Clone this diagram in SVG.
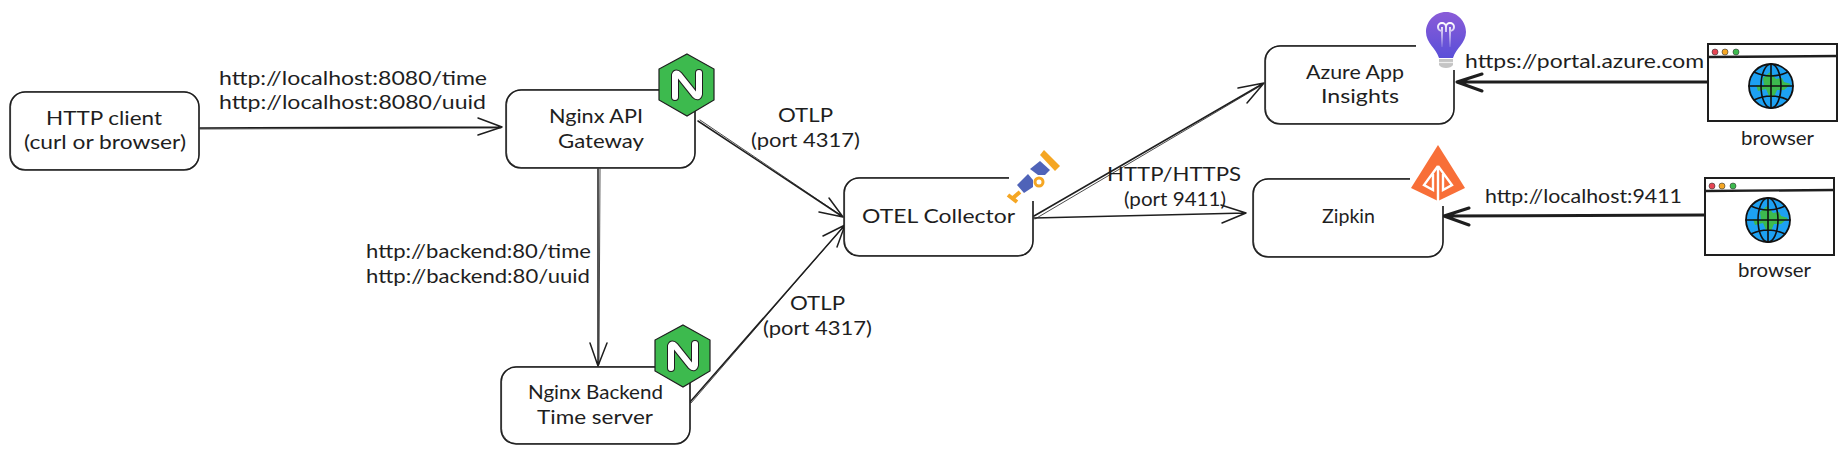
<svg xmlns="http://www.w3.org/2000/svg" width="1846" height="454" viewBox="0 0 1846 454">
<style>
.t{font-family:"Lato","Open Sans","DejaVu Sans",sans-serif;font-size:20px;font-weight:400;fill:#1e1e1e}
.b{fill:#fff;stroke:#1e1e1e;stroke-width:1.5}
.b2{fill:none;stroke:#1e1e1e;stroke-width:.8;opacity:.8}
.c{fill:none;stroke:#1e1e1e;stroke-width:1.5;stroke-linecap:round;stroke-linejoin:round}
.c2{fill:none;stroke:#1e1e1e;stroke-width:.8;stroke-linecap:round}
.k{fill:none;stroke:#1e1e1e;stroke-width:3;stroke-linecap:round;stroke-linejoin:round}
.l{fill:none;stroke:#111;stroke-width:1.6;stroke-linecap:round}
.m{fill:#fff;stroke:none}
.hex{fill:#3dba4e;stroke:#1e1e1e;stroke-width:1.2}
.n1{fill:none;stroke:#1e1e1e;stroke-width:8;stroke-linecap:round;stroke-linejoin:round}
.n2{fill:none;stroke:#fff;stroke-width:6;stroke-linecap:round;stroke-linejoin:round}
</style>
<defs>
<g id="browserIcon">
<rect x="0" y="0" width="129" height="77" fill="#fff" stroke="#1e1e1e" stroke-width="2"/>
<path d="M-1 13 L129 12" fill="none" stroke="#1e1e1e" stroke-width="2.4"/>
<circle cx="7" cy="8" r="3" fill="#e64553" stroke="#333" stroke-width=".6"/>
<circle cx="17" cy="8" r="3" fill="#f5a623" stroke="#333" stroke-width=".6"/>
<circle cx="28" cy="8" r="3" fill="#3dba4e" stroke="#333" stroke-width=".6"/>
<ellipse cx="63" cy="42" rx="22" ry="22" fill="#1da1f2" stroke="#111" stroke-width="1.8"/>
<path d="M55 34 L62 28 L68 35 L74 34 L76 38 L83 40 L76 46 L69 46 L66 53 L61 52 L58 45 L50 47 L48 41 L56 42 Z" fill="#3dba4e"/>
<ellipse cx="63" cy="42" rx="10" ry="22" class="l"/>
<path d="M41 42 H85 M46 28 Q63 36 80 28 M46 56 Q63 48 80 56 M63 20 V64" class="l"/>
</g>
<g id="nginxIcon">
<path class="hex" d="M28 0 L55 15 L55 46 L28 62 L0 46 L0 15 Z"/>
<path class="n1" d="M16 43 L16 21 Q17 18 20 21 L36 41 Q39 44 40 40 L40 19"/>
<path class="n2" d="M16 43 L16 21 Q17 18 20 21 L36 41 Q39 44 40 40 L40 19"/>
</g>
<linearGradient id="bulb" x1="0" y1="0" x2="0" y2="1"><stop offset="0" stop-color="#8a5cd8"/><stop offset="1" stop-color="#5a4fd8"/></linearGradient>
<linearGradient id="fil" x1="0" y1="0" x2="0" y2="1"><stop offset="0" stop-color="#fff"/><stop offset="1" stop-color="#fff" stop-opacity=".1"/></linearGradient>
</defs>

<g id="connectors">
<path class="c" d="M200 128 L502 127 M478 118 L502 127 L478 135"/>
<path class="c2" d="M200 129 L501 128"/>
<path class="c" d="M598 169 L598 366 M590 343 L598 366 L607 343"/>
<path class="c2" d="M600 169 L599 364"/>
<path class="c" d="M698 121 L843 217 M829 198 L843 217 L819 212"/>
<path class="c2" d="M700 120 L842 216"/>
<path class="c" d="M690 402 L845 225 M823 236 L845 225 L837 247"/>
<path class="c2" d="M691 403 L844 226"/>
<path class="c" d="M1034 216 L1264 83 M1238 88 L1264 83 L1247 103"/>
<path class="c2" d="M1035 219 L1262 85"/>
<path class="c" d="M1034 218 L1246 213 M1221 205 L1246 213 L1222 223"/>
<path class="k" d="M1708 82 L1457 82 M1482 74 L1457 82 L1482 91"/>
<path class="k" d="M1705 215 L1444 216 M1469 208 L1444 216 L1469 225"/>
</g>

<g id="node-http-client">
<rect class="b" x="10" y="92" width="189" height="78" rx="15"/>
<rect class="b2" x="10.6" y="91.6" width="188.4" height="78" rx="15"/>
<text class="t" x="46" y="125" textLength="116" lengthAdjust="spacingAndGlyphs">HTTP client</text>
<text class="t" x="24" y="149" textLength="162" lengthAdjust="spacingAndGlyphs">(curl or browser)</text>
</g>

<g id="node-nginx-gateway">
<rect class="b" x="506" y="90" width="189" height="78" rx="15"/>
<rect class="b2" x="506.6" y="89.6" width="188.4" height="78" rx="15"/>
<text class="t" x="549" y="123" textLength="94" lengthAdjust="spacingAndGlyphs">Nginx API</text>
<text class="t" x="558" y="148" textLength="86" lengthAdjust="spacingAndGlyphs">Gateway</text>
<use href="#nginxIcon" x="659" y="54"/>
</g>

<g id="node-nginx-backend">
<rect class="b" x="501" y="367" width="189" height="77" rx="15"/>
<rect class="b2" x="501.6" y="366.6" width="188.4" height="77" rx="15"/>
<text class="t" x="528" y="399" textLength="135" lengthAdjust="spacingAndGlyphs">Nginx Backend</text>
<text class="t" x="537" y="424" textLength="116" lengthAdjust="spacingAndGlyphs">Time server</text>
<use href="#nginxIcon" x="655" y="325"/>
</g>

<g id="node-otel">
<rect class="b" x="844" y="178" width="189" height="78" rx="15"/>
<rect class="b2" x="844.6" y="177.6" width="188.4" height="78" rx="15"/>
<rect class="m" x="1009" y="150" width="30" height="51"/>
<text class="t" x="862" y="223" textLength="153" lengthAdjust="spacingAndGlyphs">OTEL Collector</text>
<g id="telescope">
<path d="M1040 155 L1044 150 L1060 166 L1055 171 Z" fill="#f5a623"/>
<path d="M1030 169 L1040 161 L1050 170 L1045 175 L1038 175 Z" fill="#4f63b8"/>
<path d="M1017 185 L1028 174 L1033 180 L1033 187 L1024 193 Z" fill="#4f63b8"/>
<circle cx="1039" cy="182" r="4" fill="none" stroke="#f5a623" stroke-width="3"/>
<path d="M1008 195 L1017 202 M1013 198 L1020 192" fill="none" stroke="#f5a623" stroke-width="4"/>
</g>
</g>

<g id="node-azure">
<rect class="b" x="1265" y="46" width="189" height="78" rx="15"/>
<rect class="b2" x="1265.6" y="45.6" width="188.4" height="78" rx="15"/>
<rect class="m" x="1416" y="10" width="45" height="60"/>
<text class="t" x="1306" y="79" textLength="98" lengthAdjust="spacingAndGlyphs">Azure App</text>
<text class="t" x="1321" y="103" textLength="78" lengthAdjust="spacingAndGlyphs">Insights</text>
<g id="bulb-icon">
<path d="M1446 12 C1458 12 1466 22 1466 32 C1466 43 1456 48 1453 58 L1439 58 C1436 48 1426 43 1426 32 C1426 22 1434 12 1446 12 Z" fill="url(#bulb)"/>
<path d="M1439 59 H1453 V65 Q1451 68 1446 68 Q1441 68 1439 65 Z" fill="#c4c4c4"/>
<path d="M1439 62.500 H1453" stroke="#eee" stroke-width="1.2"/>
<path d="M1442 27 V47 M1442 31 A4 4 0 1 1 1446 27 V32 M1450 27 V47 M1450 31 A4 4 0 1 0 1446 27" fill="none" stroke="url(#fil)" stroke-width="2"/>
</g>
</g>

<g id="node-zipkin">
<rect class="b" x="1253" y="179" width="190" height="78" rx="15"/>
<rect class="b2" x="1253.6" y="178.6" width="189.400" height="78" rx="15"/>
<rect class="m" x="1410" y="145" width="55" height="61"/>
<text class="t" x="1322" y="223" textLength="53" lengthAdjust="spacingAndGlyphs">Zipkin</text>
<g id="zipkin-icon">
<path d="M1438 145 L1465 188 L1438 201 L1411 188 Z" fill="#f86f38"/>
<path d="M1438 166 V201 M1438 166 L1424 185 L1433 190 V174 M1438 166 L1452 185 L1443 190 V174" fill="none" stroke="#fff" stroke-width="2.4"/>
</g>
</g>

<g id="node-browser-1">
<use href="#browserIcon" x="1708" y="44"/>
<text class="t" x="1741" y="145" textLength="73" lengthAdjust="spacingAndGlyphs">browser</text>
</g>
<g id="node-browser-2">
<use href="#browserIcon" x="1705" y="178"/>
<text class="t" x="1738" y="277" textLength="73" lengthAdjust="spacingAndGlyphs">browser</text>
</g>

<g id="labels">
<text class="t" x="219" y="85" textLength="268" lengthAdjust="spacingAndGlyphs">http://localhost:8080/time</text>
<text class="t" x="219" y="109" textLength="267" lengthAdjust="spacingAndGlyphs">http://localhost:8080/uuid</text>
<text class="t" x="366" y="258" textLength="225" lengthAdjust="spacingAndGlyphs">http://backend:80/time</text>
<text class="t" x="366" y="283" textLength="224" lengthAdjust="spacingAndGlyphs">http://backend:80/uuid</text>
<text class="t" x="778" y="122" textLength="55" lengthAdjust="spacingAndGlyphs">OTLP</text>
<text class="t" x="751" y="147" textLength="109" lengthAdjust="spacingAndGlyphs">(port 4317)</text>
<text class="t" x="790" y="310" textLength="55" lengthAdjust="spacingAndGlyphs">OTLP</text>
<text class="t" x="763" y="335" textLength="109" lengthAdjust="spacingAndGlyphs">(port 4317)</text>
<text class="t" x="1107" y="181" textLength="134" lengthAdjust="spacingAndGlyphs">HTTP/HTTPS</text>
<text class="t" x="1124" y="206" textLength="102" lengthAdjust="spacingAndGlyphs">(port 9411)</text>
<text class="t" x="1465" y="68" textLength="239" lengthAdjust="spacingAndGlyphs">https://portal.azure.com</text>
<text class="t" x="1485" y="203" textLength="197" lengthAdjust="spacingAndGlyphs">http://localhost:9411</text>
</g>
</svg>
